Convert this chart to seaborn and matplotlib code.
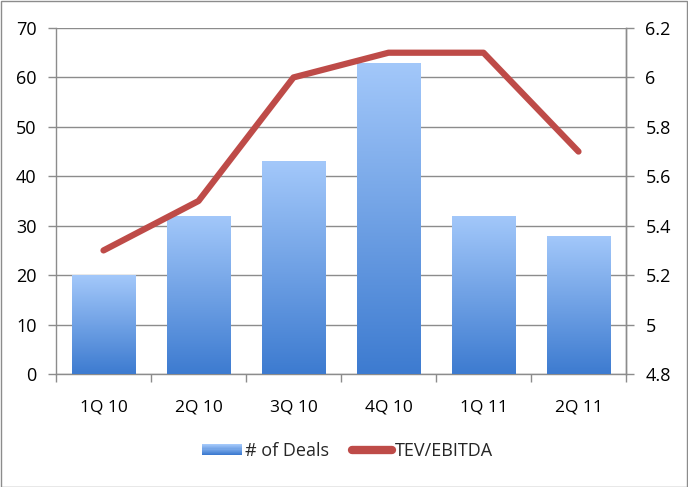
import numpy as np
import pandas as pd
import matplotlib
matplotlib.use("Agg")
import matplotlib.pyplot as plt
import seaborn as sns
from matplotlib.colors import LinearSegmentedColormap
from matplotlib.patches import Rectangle
from matplotlib.lines import Line2D
from matplotlib.legend_handler import HandlerBase

quarters = ["1Q 10", "2Q 10", "3Q 10", "4Q 10", "1Q 11", "2Q 11"]
deals = [20, 32, 43, 63, 32, 28]
tev_ebitda = [5.3, 5.5, 6.0, 6.1, 6.1, 5.7]
left_ticks = [0, 10, 20, 30, 40, 50, 60, 70]
right_ticks = [4.8, 5.0, 5.2, 5.4, 5.6, 5.8, 6.0, 6.2]
right_labels = ["4.8", "5", "5.2", "5.4", "5.6", "5.8", "6", "6.2"]

df = pd.DataFrame({"quarter": quarters, "deals": deals, "tev": tev_ebitda})

sns.set_theme(style="white")
plt.rcParams["font.family"] = ["Open Sans", "DejaVu Sans"]

fig = plt.figure(figsize=(6.88, 4.87), dpi=100)
ax = fig.add_axes([56 / 688, 113 / 487, 570 / 688, 346 / 487])

top_c = "#A3C8FA"
bot_c = "#3D7BD0"
cmap = LinearSegmentedColormap.from_list("g", [bot_c, top_c])

sns.barplot(data=df, x="quarter", y="deals", ax=ax, width=0.67, color=bot_c,
            saturation=1, zorder=3)

grad = np.linspace(0, 1, 256).reshape(-1, 1)
for p in ax.patches:
    x0, y0 = p.get_x(), p.get_y()
    w, h = p.get_width(), p.get_height()
    im = ax.imshow(grad, extent=[x0, x0 + w, y0, y0 + h], origin="lower",
                   aspect="auto", cmap=cmap, zorder=3)
    im.set_clip_path(p)
    p.set_facecolor("none")
    p.set_edgecolor("none")

ax.set_xlim(-0.5, 5.5)
ax.set_ylim(0, 70)
ax.set_yticks(left_ticks)
ax.set_xlabel("")
ax.set_ylabel("")

grid_c = "#8C8C8C"
ax.yaxis.grid(True, color=grid_c, lw=1, zorder=0)
ax.set_axisbelow(True)
ax.spines["top"].set_visible(False)
for s in ["left", "right", "bottom"]:
    ax.spines[s].set_color(grid_c)
    ax.spines[s].set_linewidth(1)

ax.tick_params(axis="y", left=True, length=6, width=1, color=grid_c,
               labelsize=13, pad=8, labelcolor="black")
ax.set_xticks(np.arange(6))
ax.set_xticklabels(quarters)
ax.set_xticks(np.arange(-0.5, 6, 1), minor=True)
ax.tick_params(axis="x", which="major", length=0, labelsize=12.5, pad=18,
               labelcolor="black")
ax.tick_params(axis="x", which="minor", bottom=True, length=6, width=1,
               color=grid_c)

ax2 = ax.twinx()
line_c = "#BE4B48"
sns.lineplot(x=np.arange(6), y=tev_ebitda, ax=ax2, color=line_c, lw=4.5,
             zorder=5)
ax2.set_ylim(4.8, 6.2)
ax2.set_yticks(right_ticks)
ax2.set_yticklabels(right_labels)
ax2.tick_params(axis="y", right=True, length=6, width=1, color=grid_c,
                labelsize=13, pad=8, labelcolor="black")
for s in ["top", "left", "bottom"]:
    ax2.spines[s].set_visible(False)
ax2.spines["right"].set_color(grid_c)
ax2.spines["right"].set_linewidth(1)
ax2.set_xlim(-0.5, 5.5)


class GradHandler(HandlerBase):
    def create_artists(self, legend, orig_handle, xdescent, ydescent, width,
                       height, fontsize, trans):
        arts = []
        n = 10
        hh = height * 1.0
        y0 = -ydescent + (height - hh) / 2
        for i in range(n):
            c = cmap(i / (n - 1))
            r = Rectangle((-xdescent, y0 + hh * i / n), width, hh / n,
                          facecolor=c, edgecolor="none", transform=trans)
            arts.append(r)
        return arts


bar_handle = Rectangle((0, 0), 1, 1)
line_handle = Line2D([0], [0], color=line_c, lw=6, solid_capstyle="round")
fig.legend([bar_handle, line_handle], ["# of Deals", "TEV/EBITDA"],
           handler_map={Rectangle: GradHandler()},
           loc="center", bbox_to_anchor=(0.505, 0.074), ncol=2, frameon=False,
           fontsize=13, handlelength=2.2, handleheight=0.6, handletextpad=0.15,
           columnspacing=1.3)

fig.patches.append(Rectangle((0.5 / 688, 0.5 / 487), 1 - 1.5 / 688,
                             1 - 1.5 / 487, transform=fig.transFigure,
                             fill=False, edgecolor="#8C8C8C", lw=1))

fig.savefig("out.png", dpi=100)
